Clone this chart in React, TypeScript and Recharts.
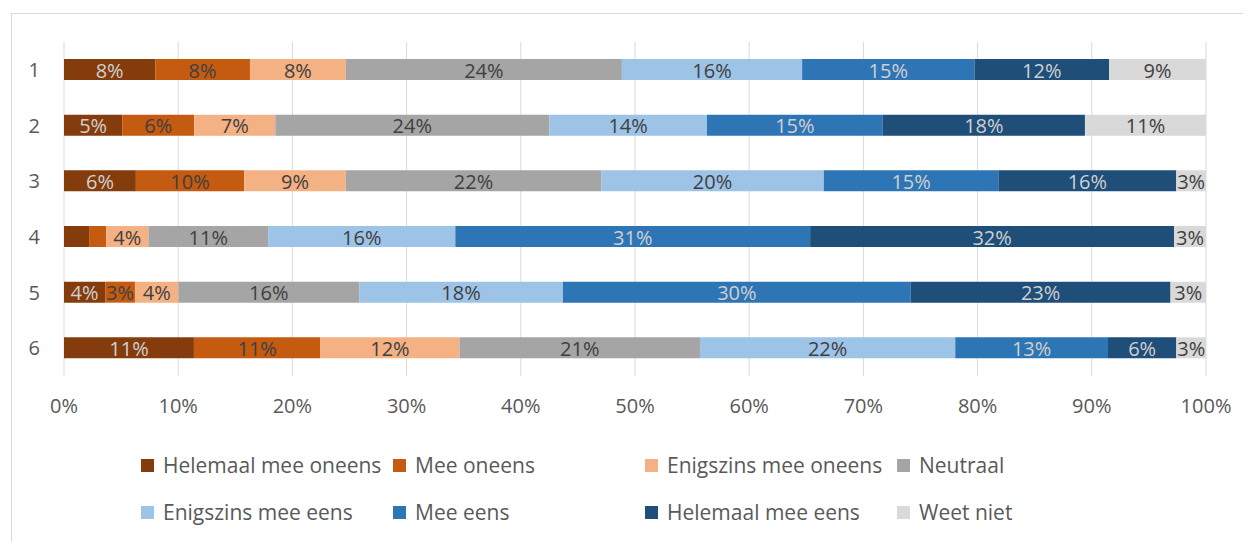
import { FC } from 'react';
import { Bar, BarChart, CartesianGrid, LabelList, XAxis, YAxis } from 'recharts';

const categories = ['1', '2', '3', '4', '5', '6'];

const helemaalOneens = [8.0, 5.1, 6.3, 2.2, 3.6, 11.4];
const meeOneens = [8.3, 6.3, 9.5, 1.5, 2.6, 11.1];
const enigszinsOneens = [8.4, 7.1, 8.9, 3.7, 3.8, 12.2];
const neutraal = [24.2, 24.0, 22.4, 10.5, 15.8, 21.1];
const enigszinsEens = [15.8, 13.8, 19.5, 16.4, 17.8, 22.4];
const meeEens = [15.1, 15.4, 15.3, 31.1, 30.4, 13.4];
const helemaalEens = [11.8, 17.7, 15.6, 31.9, 22.7, 6.0];
const weetNiet = [8.5, 10.6, 2.6, 2.8, 3.1, 2.6];

const seriesNames = [
    'Helemaal mee oneens',
    'Mee oneens',
    'Enigszins mee oneens',
    'Neutraal',
    'Enigszins mee eens',
    'Mee eens',
    'Helemaal mee eens',
    'Weet niet',
];
const seriesValues = [helemaalOneens, meeOneens, enigszinsOneens, neutraal, enigszinsEens, meeEens, helemaalEens, weetNiet];
const seriesColors = ['#843c0c', '#c55a11', '#f4b183', '#a5a5a5', '#9dc3e6', '#2e75b6', '#1f4e79', '#d9d9d9'];
const lightLabel = [true, false, false, false, false, true, true, false];

const xTicks = [0, 0.1, 0.2, 0.3, 0.4, 0.5, 0.6, 0.7, 0.8, 0.9, 1];

const FONT = '"Open Sans", sans-serif';

// one row per category, s0..s7 = series
const rows = categories.map((cat, i) => {
    const row: Record<string, string | number> = { cat };
    seriesValues.forEach((vals, s) => { row['s' + s] = vals[i]; });
    return row;
});
const edgeTicks = [...categories.map((_, i) => i), categories.length];

const makeLabel = (light: boolean) => (props: any) => {
    const { x, y, width, height, value } = props;
    if (value === undefined || value < 2.5) return null;
    return (
        <text
            x={Number(x) + Number(width) / 2}
            y={Number(y) + Number(height) / 2 + 8}
            textAnchor="middle"
            fontSize={20}
            fontFamily={FONT}
            fill={light ? '#d0d0d0' : '#404040'}
        >
            {Math.round(value)}%
        </text>
    );
};

const App: FC = () => {
    return (
        <div style={{ position: 'relative', width: 1243, height: 534, fontFamily: FONT }}>
            <div style={{ position: 'absolute', left: 3, top: 5, right: 0, bottom: 0, borderTop: '1px solid #d9d9d9', borderLeft: '1px solid #d9d9d9' }} />
            <BarChart
                width={1243}
                height={430}
                layout="vertical"
                data={rows}
                stackOffset="expand"
                margin={{ top: 34, right: 45, left: 0, bottom: 2 }}
                style={{ position: 'absolute', left: 0, top: 0 }}
            >
                <CartesianGrid horizontal={false} stroke="#d9d9d9" />
                <XAxis
                    type="number"
                    domain={[0, 1]}
                    ticks={xTicks}
                    tickFormatter={(v: number) => `${Math.round(v * 100)}%`}
                    axisLine={false}
                    tickLine={false}
                    tickSize={0}
                    tickMargin={23}
                    height={60}
                    tick={{ fill: '#595959', fontSize: 20, fontFamily: FONT }}
                />
                <YAxis
                    yAxisId="cat"
                    type="category"
                    dataKey="cat"
                    width={56}
                    axisLine={false}
                    tickLine={false}
                    tickSize={0}
                    tickMargin={24}
                    tick={{ fill: '#595959', fontSize: 20, fontFamily: FONT }}
                />
                <YAxis
                    yAxisId="edge"
                    type="number"
                    domain={[0, categories.length]}
                    ticks={edgeTicks}
                    width={0}
                    tick={false}
                    tickSize={7}
                    axisLine={{ stroke: '#bfbfbf' }}
                    tickLine={{ stroke: '#bfbfbf' }}
                />
                {seriesNames.map((name, s) => (
                    <Bar
                        key={name}
                        name={name}
                        dataKey={'s' + s}
                        yAxisId="cat"
                        stackId="a"
                        barSize={21}
                        fill={seriesColors[s]}
                        isAnimationActive={false}
                    >
                        <LabelList dataKey={'s' + s} content={makeLabel(lightLabel[s])} />
                    </Bar>
                ))}
            </BarChart>
            <div
                style={{
                    position: 'absolute',
                    left: 133,
                    top: 443,
                    display: 'grid',
                    gridTemplateColumns: 'repeat(4, 252px)',
                    rowGap: 19,
                    color: '#595959',
                    fontSize: 21,
                }}
            >
                {seriesNames.map((name, s) => (
                    <div key={name} style={{ display: 'flex', alignItems: 'center', height: 28, whiteSpace: 'nowrap' }}>
                        <span style={{ display: 'inline-block', width: 13, height: 13, background: seriesColors[s], marginRight: 9 }} />
                        {name}
                    </div>
                ))}
            </div>
        </div>
    );
};

export default App;
